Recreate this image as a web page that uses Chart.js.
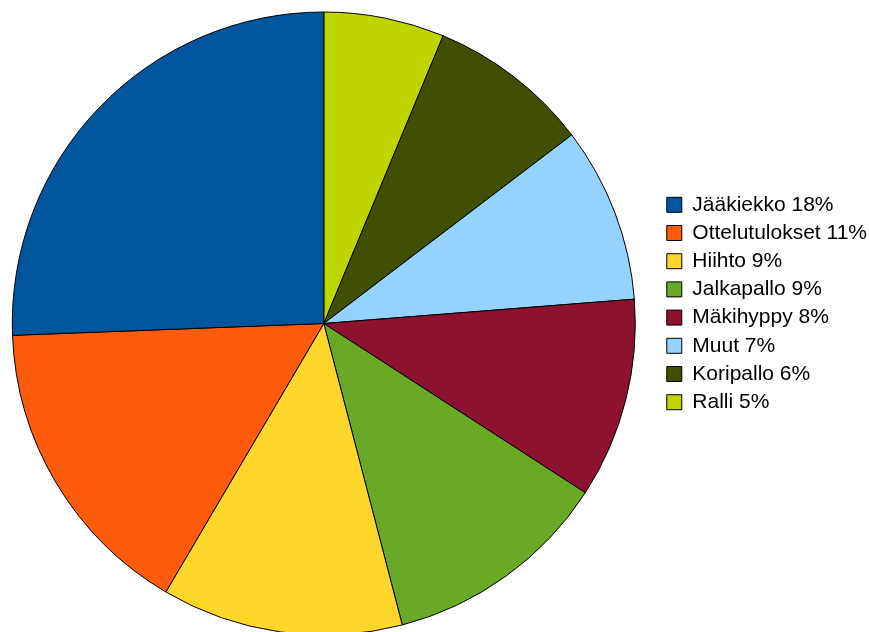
<!DOCTYPE html>
<html>
<head>
<meta charset="utf-8">
<script src="https://cdn.jsdelivr.net/npm/chart.js@4"></script>
<style>
  html, body { margin: 0; padding: 0; background: #fff; overflow: hidden; width: 869px; height: 632px; }
  #wrap { position: absolute; left: -12px; top: 0; width: 889px; height: 647px; }
</style>
</head>
<body>
<div id="wrap"><canvas id="c"></canvas></div>
<script>
// Categories in legend order
const categories = ['Jääkiekko', 'Ottelutulokset', 'Hiihto', 'Jalkapallo', 'Mäkihyppy', 'Muut', 'Koripallo', 'Ralli'];
// Percent labels shown in the legend
const percentLabels = [18, 11, 9, 9, 8, 7, 6, 5];
// Slice sizes (relative shares)
const sliceValues = [18.0, 11.2, 8.8, 8.3, 7.3, 6.4, 5.9, 4.4];
const sliceColors = ['#00569c', '#ff5b0c', '#ffd72b', '#69a925', '#8d1230', '#95d3ff', '#404f00', '#bfd500'];

// The original draws counter-clockwise from 12 o'clock; Chart.js draws clockwise,
// so feed reversed data and show the legend reversed.
const labels = categories.map((c, i) => c + ' ' + percentLabels[i] + '%').reverse();
const data = sliceValues.slice().reverse();
const colors = sliceColors.slice().reverse();

new Chart(document.getElementById('c'), {
  type: 'pie',
  data: {
    labels: labels,
    datasets: [{
      data: data,
      backgroundColor: colors,
      borderColor: '#000000',
      borderWidth: 1,
      hoverOffset: 0
    }]
  },
  options: {
    responsive: true,
    maintainAspectRatio: false,
    animation: false,
    events: [],
    radius: 311.5,
    rotation: 0,
    layout: { padding: 0 },
    plugins: {
      tooltip: { enabled: false },
      legend: {
        position: 'right',
        align: 'start',
        reverse: true,
        title: { display: true, text: '', font: { size: 12 }, padding: { top: 172.7, bottom: 0 } },
        labels: {
          boxWidth: 15,
          boxHeight: 15,
          padding: 7.2,
          color: '#000000',
          font: { family: "'Liberation Sans', Arial, sans-serif", size: 21 }
        }
      }
    }
  }
});
</script>
</body>
</html>
